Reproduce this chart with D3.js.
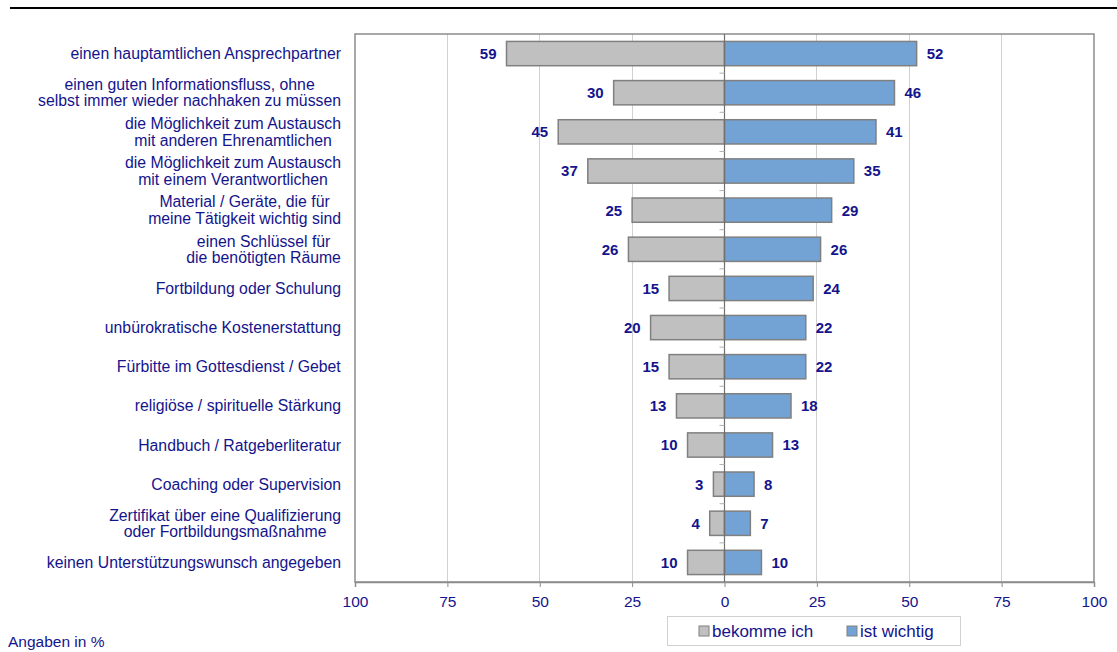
<!DOCTYPE html>
<html><head><meta charset="utf-8">
<script src="https://cdn.jsdelivr.net/npm/d3@7"></script>
<style>
body{margin:0;background:#fff;}
text{font-family:"Liberation Sans",Arial,sans-serif;}
</style></head>
<body>
<svg id="chart" width="1117" height="652"></svg>
<script>
const categories = [
  ["einen hauptamtlichen Ansprechpartner"],
  ["einen guten Informationsfluss, ohne","selbst immer wieder nachhaken zu müssen"],
  ["die Möglichkeit zum Austausch","mit anderen Ehrenamtlichen"],
  ["die Möglichkeit zum Austausch","mit einem Verantwortlichen"],
  ["Material / Geräte, die für","meine Tätigkeit wichtig sind"],
  ["einen Schlüssel für","die benötigten Räume"],
  ["Fortbildung oder Schulung"],
  ["unbürokratische Kostenerstattung"],
  ["Fürbitte im Gottesdienst / Gebet"],
  ["religiöse / spirituelle Stärkung"],
  ["Handbuch / Ratgeberliteratur"],
  ["Coaching oder Supervision"],
  ["Zertifikat über eine Qualifizierung","oder Fortbildungsmaßnahme"],
  ["keinen Unterstützungswunsch angegeben"]
];
const bekommeIch = [59,30,45,37,25,26,15,20,15,13,10,3,4,10];
const istWichtig = [52,46,41,35,29,26,24,22,22,18,13,8,7,10];
const tickValues = [-100,-75,-50,-25,0,25,50,75,100];
const seriesNames = ["bekomme ich","ist wichtig"];

const navy = "#14148c";
const svg = d3.select("#chart");
const L = 355, R = 1094, T = 34, B = 582;

const x = d3.scaleLinear().domain([-100,100]).range([L,R]);
const y = d3.scaleBand().domain(d3.range(categories.length)).range([T,B]).paddingInner(0.38).paddingOuter(0.19);

// top rule
svg.append("rect").attr("x",10).attr("y",7).attr("width",1107).attr("height",2).attr("fill","#000");

// gridlines
svg.append("g").selectAll("line").data(tickValues.filter(d=>d!==0 && Math.abs(d)!==100)).join("line")
  .attr("x1",d=>x(d)).attr("x2",d=>x(d)).attr("y1",T).attr("y2",B)
  .attr("stroke","#d0d0d0").attr("stroke-width",1).attr("shape-rendering","crispEdges");

// plot border
svg.append("rect").attr("x",L).attr("y",T).attr("width",R-L).attr("height",B-T)
  .attr("fill","none").attr("stroke","#8c8c8c").attr("stroke-width",1.5);

// bars
const bw = y.bandwidth();
svg.append("g").selectAll("rect").data(bekommeIch).join("rect")
  .attr("x",d=>x(-d)).attr("y",(d,i)=>y(i)).attr("width",d=>x(0)-x(-d)).attr("height",bw)
  .attr("fill","#c0c0c0").attr("stroke","#808080").attr("stroke-width",1.5);
svg.append("g").selectAll("rect").data(istWichtig).join("rect")
  .attr("x",x(0)).attr("y",(d,i)=>y(i)).attr("width",d=>x(d)-x(0)).attr("height",bw)
  .attr("fill","#72a3d4").attr("stroke","#808080").attr("stroke-width",1.5);

// zero axis line and small ticks at category boundaries
svg.append("line").attr("x1",x(0)).attr("x2",x(0)).attr("y1",T).attr("y2",B)
  .attr("stroke","#707070").attr("stroke-width",1.2);
svg.append("g").selectAll("line").data(d3.range(1,categories.length)).join("line")
  .attr("x1",x(0)-5).attr("x2",x(0)).attr("y1",i=>T+i*(B-T)/categories.length).attr("y2",i=>T+i*(B-T)/categories.length)
  .attr("stroke","#b0b0b0").attr("stroke-width",1);

// value labels
svg.append("g").selectAll("text").data(bekommeIch).join("text")
  .attr("x",d=>x(-d)-10).attr("y",(d,i)=>y(i)+bw/2).attr("dy","0.36em")
  .attr("text-anchor","end").attr("font-size",15).attr("font-weight","bold").attr("fill",navy).text(d=>d);
svg.append("g").selectAll("text").data(istWichtig).join("text")
  .attr("x",d=>x(d)+10).attr("y",(d,i)=>y(i)+bw/2).attr("dy","0.36em")
  .attr("text-anchor","start").attr("font-size",15).attr("font-weight","bold").attr("fill",navy).text(d=>d);

// category labels (centered lines, right-aligned block)
const lab = svg.append("g");
categories.forEach((lines,i)=>{
  const cy = y(i)+bw/2;
  const g = lab.append("g");
  const t = g.append("text").attr("font-size",15.8).attr("fill",navy).attr("text-anchor","middle");
  lines.forEach((ln,j)=>{
    t.append("tspan").attr("x",0).attr("y",cy + (j-(lines.length-1)/2)*16.5).attr("dy","0.35em").text(ln);
  });
  const w = t.node().getBBox().width;
  g.attr("transform",`translate(${341 - w/2},0)`);
});

// bottom axis
const axis = svg.append("g").attr("transform",`translate(0,${B})`)
  .call(d3.axisBottom(x).tickValues(tickValues).tickFormat(d=>Math.abs(d)).tickSize(5));
axis.select(".domain").attr("stroke","#8c8c8c").attr("stroke-width",1.5);
axis.selectAll(".tick line").attr("stroke","#8c8c8c");
axis.selectAll(".tick text").attr("font-size",15.5).attr("fill",navy).attr("dy","1.1em")
  .attr("font-family","'Liberation Sans',Arial,sans-serif");

// legend
const lg = svg.append("g");
lg.append("rect").attr("x",667.5).attr("y",616.5).attr("width",293).attr("height",29)
  .attr("fill","#fff").attr("stroke","#d0d0d0");
const legColors = ["#c0c0c0","#72a3d4"];
const legX = [699,847];
seriesNames.forEach((n,i)=>{
  lg.append("rect").attr("x",legX[i]).attr("y",626).attr("width",10).attr("height",10)
    .attr("fill",legColors[i]).attr("stroke","#808080");
  lg.append("text").attr("x",legX[i]+13).attr("y",631).attr("dy","0.36em")
    .attr("font-size",17).attr("fill",navy).text(n);
});

// note
svg.append("text").attr("x",8).attr("y",647).attr("font-size",15.5)
  .attr("fill",navy).text("Angaben in %");
</script>
</body></html>
